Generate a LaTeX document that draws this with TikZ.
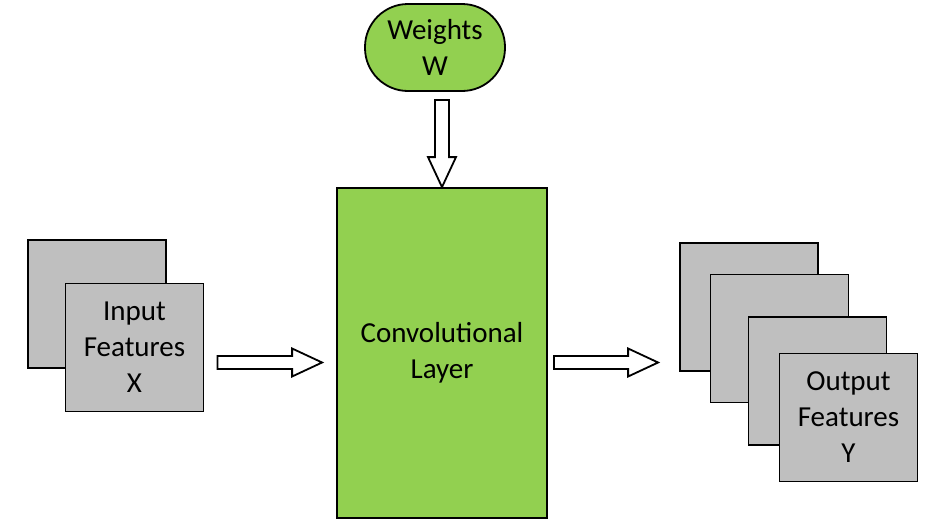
\documentclass[tikz,border=0pt]{standalone}
\usepackage{fontspec}
\setmainfont{Carlito}
\usetikzlibrary{calc}
\definecolor{mapgray}{HTML}{BFBFBF}
\definecolor{layergreen}{HTML}{92D050}
\begin{document}
\begin{tikzpicture}[x=1pt,y=-1pt,
  txt/.style={align=center,font=\fontsize{29}{36}\selectfont},
  fmap/.style={txt,draw=black,line width=1.8pt,fill=mapgray,
    minimum width=138pt,minimum height=128pt,inner sep=0pt},
  layer/.style={txt,draw=black,line width=1.8pt,fill=layergreen,
    minimum width=210pt,minimum height=330pt,inner sep=0pt},
  wnode/.style={txt,draw=black,line width=1.8pt,fill=layergreen,
    minimum width=140pt,minimum height=87pt,inner sep=0pt,rounded corners=43pt},
  blockarrow/.style={draw=black,line width=1.8pt,fill=white,line join=miter}]
\useasboundingbox (0,0) rectangle (928,522);

% input feature maps
\node[fmap] (in1) at (97,304) {};
\node[fmap] (in2) at (134.5,347.5) {Input\\Features\\X};

% convolutional layer and its weights
\node[layer] (conv) at (442,353) {Convolutional\\Layer};
\node[wnode] (w) at (435,47.5) {Weights\\W};

% output feature maps
\node[fmap] (out1) at (749,307) {};
\node[fmap] (out2) at (779.5,338.5) {};
\node[fmap] (out3) at (817.5,381) {};
\node[fmap] (out4) at (848.5,417.5) {Output\\Features\\Y};

% arrow ends
\coordinate (ws) at ($(conv.north |- w.south)+(0,8)$);
\coordinate (wt) at (conv.north);
\coordinate (is) at ($(in2.east |- 0,362.5)+(13,0)$);
\coordinate (it) at ($(conv.west |- 0,362.5)+(-14,0)$);
\coordinate (os) at ($(conv.east |- 0,362.5)+(6,0)$);
\coordinate (ot) at ($(out1.west |- 0,362.5)+(-21,0)$);

% weights -> layer
\draw[blockarrow] ($(ws)+(-7,0)$) -- ($(ws)+(7,0)$) -- ($(wt)+(7,-30)$)
  -- ($(wt)+(14,-30)$) -- (wt) -- ($(wt)+(-14,-30)$) -- ($(wt)+(-7,-30)$) -- cycle;
% input -> layer
\draw[blockarrow] ($(is)+(0,-6.5)$) -- ($(it)+(-30,-6.5)$) -- ($(it)+(-30,-14)$)
  -- (it) -- ($(it)+(-30,14)$) -- ($(it)+(-30,6.5)$) -- ($(is)+(0,6.5)$) -- cycle;
% layer -> output
\draw[blockarrow] ($(os)+(0,-6.5)$) -- ($(ot)+(-30,-6.5)$) -- ($(ot)+(-30,-14)$)
  -- (ot) -- ($(ot)+(-30,14)$) -- ($(ot)+(-30,6.5)$) -- ($(os)+(0,6.5)$) -- cycle;
\end{tikzpicture}
\end{document}
